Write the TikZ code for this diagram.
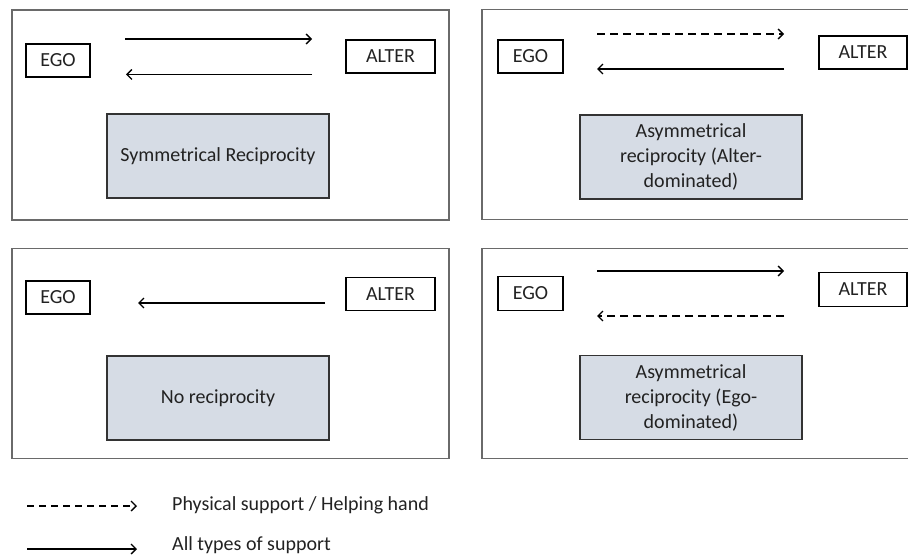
\documentclass[tikz,border=0pt]{standalone}
\usepackage{fontspec}
\setmainfont{Carlito}
\usetikzlibrary{arrows.meta}
\definecolor{boxfill}{HTML}{D6DCE5}
\definecolor{panelline}{HTML}{6A6A6A}
\definecolor{txt}{HTML}{222222}
\begin{document}
\begin{tikzpicture}[x=1pt,y=-1pt,
  panel/.style={draw=panelline,line width=1.5pt,minimum width=437pt,minimum height=210pt,inner sep=0pt,outer sep=0pt},
  actor/.style={draw=black,line width=1.3pt,minimum height=33pt,inner sep=0pt,outer sep=0pt,text=txt,font=\fontsize{20}{24}\selectfont},
  kind/.style={draw=black!80,fill=boxfill,line width=1.3pt,minimum width=222pt,minimum height=84pt,inner sep=2pt,outer sep=0pt,align=center,text=txt,font=\fontsize{20}{25}\selectfont},
  flow/.style={line width=1.5pt,-{Straight Barb[length=5pt,width=10pt,line width=1.4pt]}},
  dflow/.style={flow,dash pattern=on 8pt off 5pt},
  legtext/.style={anchor=west,inner sep=0pt,text=txt,font=\fontsize{20}{24}\selectfont}
]
\useasboundingbox (0,0) rectangle (908,556);
\clip (0,0) rectangle (908,556);
% panels
\node[panel] (p1) at (230.5,115) {};
\node[panel] (p2) at (700.5,114.5) {};
\node[panel] (p3) at (230.5,353.5) {};
\node[panel] (p4) at (700.5,353.5) {};
% panel 1
\node[actor,minimum width=64pt] (ego1) at (58,60.5) {EGO};
\node[actor,minimum width=89pt] (alt1) at (390.5,56.5) {ALTER};
\node[kind] (k1) at (218,156) {Symmetrical Reciprocity};
\coordinate (a1s) at (125,39); \coordinate (a1e) at (312,39);
\coordinate (b1s) at (312,74.5); \coordinate (b1e) at (126,74.5);
\draw[flow] (a1s) -- (a1e);
\draw[flow] (b1s) -- (b1e);
% panel 2
\node[actor,minimum width=65pt] (ego2) at (530.5,56.5) {EGO};
\node[actor,minimum width=88pt] (alt2) at (863,52.5) {ALTER};
\node[kind] (k2) at (691,157) {Asymmetrical\\reciprocity (Alter-\\dominated)};
\coordinate (a2s) at (597,34); \coordinate (a2e) at (784,34);
\coordinate (b2s) at (784,69); \coordinate (b2e) at (597,69);
\draw[dflow] (a2s) -- (a2e);
\draw[flow] (b2s) -- (b2e);
% panel 3
\node[actor,minimum width=64pt] (ego3) at (58,297.5) {EGO};
\node[actor,minimum width=89pt] (alt3) at (390.5,294) {ALTER};
\node[kind] (k3) at (218,398) {No reciprocity};
\coordinate (b3s) at (325,303); \coordinate (b3e) at (138,303);
\draw[flow] (b3s) -- (b3e);
% panel 4
\node[actor,minimum width=65pt,minimum height=34pt] (ego4) at (530.5,293.5) {EGO};
\node[actor,minimum width=88pt,minimum height=34pt] (alt4) at (863,289.5) {ALTER};
\node[kind] (k4) at (691,397.5) {Asymmetrical\\reciprocity (Ego-\\dominated)};
\coordinate (a4s) at (597,271); \coordinate (a4e) at (784,271);
\coordinate (b4s) at (784,316); \coordinate (b4e) at (597,316);
\draw[flow] (a4s) -- (a4e);
\draw[dflow] (b4s) -- (b4e);
% legend
\coordinate (l1s) at (27,506); \coordinate (l1e) at (137,506);
\coordinate (l2s) at (27,549); \coordinate (l2e) at (137,549);
\draw[flow,dash pattern=on 7pt off 5pt] (l1s) -- (l1e);
\draw[flow] (l2s) -- (l2e);
\node[legtext] (lt1) at (172,505) {Physical support / Helping hand};
\node[legtext] (lt2) at (172,545) {All types of support};
\end{tikzpicture}
\end{document}
